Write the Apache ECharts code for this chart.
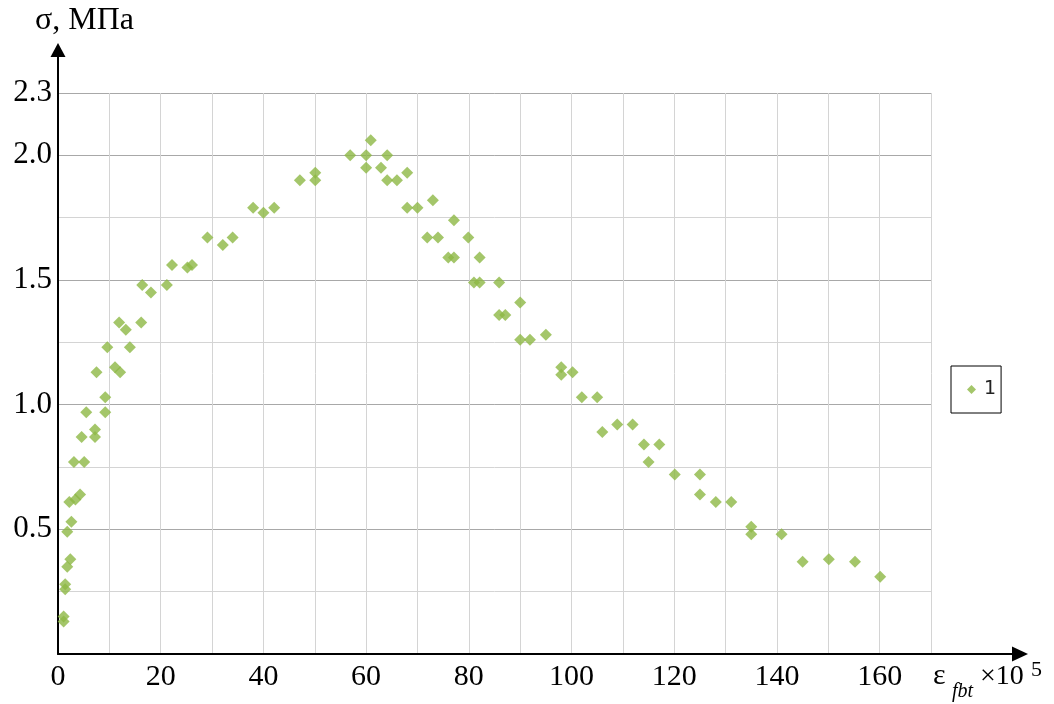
<!DOCTYPE html>
<html>
<head>
<meta charset="utf-8">
<script src="https://cdn.jsdelivr.net/npm/echarts@6/dist/echarts.min.js"></script>
<style>
  html, body { margin: 0; padding: 0; background: #fff; }
  #chart { width: 1054px; height: 704px; }
</style>
</head>
<body>
<div id="chart"></div>
<script>
// Relative strain ε_fbt (×10^5) of each reading
const strain = [
  1.1, 1.1, 1.4, 1.4, 1.8, 2.4, 1.8, 2.6, 2.2, 3.4, 4.3, 3.1, 5.1, 4.6, 7.2, 7.2,
  5.5, 9.2, 9.2, 7.5, 11.1, 12.1, 9.6, 14.0, 11.9, 13.2, 16.2, 16.4, 18.1, 21.2,
  22.2, 25.2, 26.1, 29.1, 32.1, 34.0, 38.0, 40.0, 42.1, 47.1, 50.1, 50.1, 56.9,
  60.0, 60.0, 60.9, 64.1, 62.9, 64.1, 66.0, 68.0, 68.0, 70.0, 73.0, 77.1, 71.9,
  74.0, 79.9, 76.0, 77.1, 82.1, 81.0, 82.1, 85.9, 90.0, 85.9, 87.1, 90.0, 91.9,
  95.0, 98.0, 98.0, 100.2, 102.0, 105.0, 106.0, 108.9, 111.9, 114.1, 117.1, 115.0,
  120.1, 125.0, 125.0, 128.1, 131.1, 135.0, 135.0, 140.9, 145.0, 150.1, 155.2, 160.1
];
// Tensile stress σ, MPa, for the same readings
const stress = [
  0.13, 0.15, 0.26, 0.28, 0.35, 0.38, 0.49, 0.53, 0.61, 0.62, 0.64, 0.77, 0.77, 0.87, 0.87, 0.90,
  0.97, 0.97, 1.03, 1.13, 1.15, 1.13, 1.23, 1.23, 1.33, 1.30, 1.33, 1.48, 1.45, 1.48,
  1.56, 1.55, 1.56, 1.67, 1.64, 1.67, 1.79, 1.77, 1.79, 1.90, 1.93, 1.90, 2.00,
  2.00, 1.95, 2.06, 2.00, 1.95, 1.90, 1.90, 1.93, 1.79, 1.79, 1.82, 1.74, 1.67,
  1.67, 1.67, 1.59, 1.59, 1.59, 1.49, 1.49, 1.49, 1.41, 1.36, 1.36, 1.26, 1.26,
  1.28, 1.15, 1.12, 1.13, 1.03, 1.03, 0.89, 0.92, 0.92, 0.84, 0.84, 0.77,
  0.72, 0.72, 0.64, 0.61, 0.61, 0.51, 0.48, 0.48, 0.37, 0.38, 0.37, 0.31
];

const seriesName = '1';
const xTickValues = [0, 20, 40, 60, 80, 100, 120, 140, 160];
const yTickValues = [0.5, 1.0, 1.5, 2.0, 2.25];
const yTickTexts = ['0.5', '1.0', '1.5', '2.0', '2.3'];

const serif = '"Liberation Serif", "Times New Roman", serif';
const points = strain.map((x, i) => [x, stress[i]]);

const chart = echarts.init(document.getElementById('chart'), null, { renderer: 'canvas' });

chart.setOption({
  backgroundColor: '#fff',
  animation: false,
  grid: [
    // plotting area with the grid lines
    { left: 58, right: 123, top: 93, bottom: 50, outerBoundsMode: 'none', containLabel: false },
    // wider frame carrying the two arrowed axis lines
    { left: 58, right: 34, top: 50, bottom: 50, outerBoundsMode: 'none', containLabel: false }
  ],
  xAxis: [
    {
      gridIndex: 0, type: 'value', min: 0, max: 170, interval: 10,
      axisLine: { show: false }, axisTick: { show: false },
      splitLine: { show: true, lineStyle: { color: '#d4d4d4', width: 1 } },
      axisLabel: {
        margin: 8, color: '#000', fontFamily: serif, fontSize: 30,
        formatter: v => (xTickValues.includes(v) ? String(v) : '')
      }
    },
    {
      gridIndex: 1, type: 'value', min: 0, max: 1,
      axisLine: { show: true, symbol: ['none', 'triangle'], symbolSize: [15, 16],
                  lineStyle: { color: '#000', width: 2 } },
      axisTick: { show: false }, axisLabel: { show: false }, splitLine: { show: false }
    }
  ],
  yAxis: [
    {
      gridIndex: 0, type: 'value', min: 0, max: 2.25, interval: 0.25,
      axisLine: { show: false }, axisTick: { show: false },
      splitLine: { show: true, lineStyle: { color: '#d4d4d4', width: 1 } },
      axisLabel: {
        margin: 6, color: '#000', fontFamily: serif, fontSize: 31,
        formatter: v => {
          const k = yTickValues.indexOf(v);
          return k >= 0 ? yTickTexts[k] : '';
        }
      }
    },
    {
      // heavier lines every 0.5 MPa
      gridIndex: 0, type: 'value', min: 0, max: 2.25, interval: 0.5, position: 'left',
      axisLine: { show: false }, axisTick: { show: false }, axisLabel: { show: false },
      splitLine: { show: true, lineStyle: { color: '#a8a8a8', width: 1 } }
    },
    {
      gridIndex: 1, type: 'value', min: 0, max: 1,
      axisLine: { show: true, symbol: ['none', 'triangle'], symbolSize: [15, 14],
                  lineStyle: { color: '#000', width: 2 } },
      axisTick: { show: false }, axisLabel: { show: false }, splitLine: { show: false }
    }
  ],
  legend: {
    data: [seriesName],
    left: 951, top: 366,
    orient: 'vertical',
    backgroundColor: '#fff',
    borderColor: '#000', borderWidth: 1, borderRadius: 0,
    padding: [14, 5, 14, 16],
    itemWidth: 9, itemHeight: 9, itemGap: 0,
    textStyle: { fontFamily: '"DejaVu Sans", sans-serif', fontSize: 19, color: '#222',
                 padding: [0, 0, 0, 3] }
  },
  graphic: [
    { type: 'text', left: 35, top: 5,
      style: { text: 'σ, МПа', font: '32px "Liberation Serif"', fill: '#000' } },
    { type: 'text', left: 933, top: 661,
      style: { text: 'ε', font: '30px "Liberation Serif"', fill: '#000' } },
    { type: 'text', left: 952, top: 682,
      style: { text: 'fbt', font: 'italic 20px "Liberation Serif"', fill: '#000' } },
    { type: 'text', left: 980, top: 663,
      style: { text: '×10', font: '28px "Liberation Serif"', fill: '#000' } },
    { type: 'text', left: 1031, top: 659,
      style: { text: '5', font: '22px "Liberation Serif"', fill: '#000' } }
  ],
  series: [
    {
      name: seriesName,
      type: 'scatter',
      xAxisIndex: 0, yAxisIndex: 0,
      symbol: 'diamond', symbolSize: 12,
      itemStyle: { color: '#8db845' },
      data: points
    }
  ]
});
</script>
</body>
</html>
